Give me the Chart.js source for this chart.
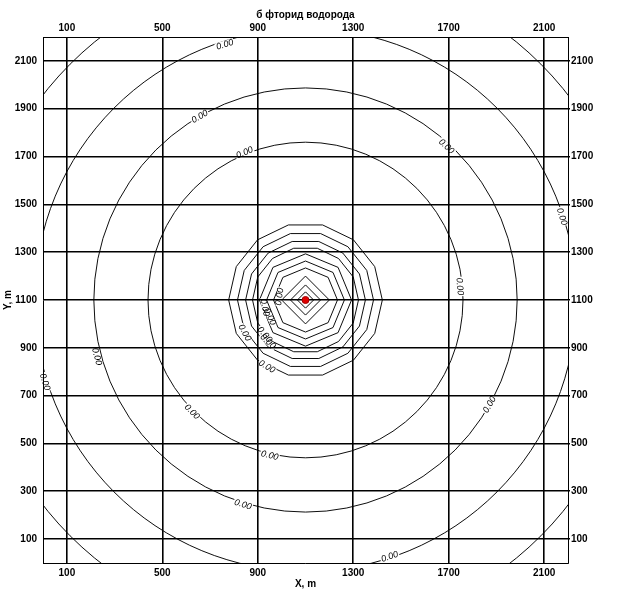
<!DOCTYPE html>
<html>
<head>
<meta charset="utf-8">
<script src="https://cdn.jsdelivr.net/npm/chart.js@4.4.0/dist/chart.umd.min.js"></script>
<style>
html, body { margin: 0; padding: 0; background: #fff; }
</style>
</head>
<body>
<canvas id="contourChart" width="640" height="601"></canvas>
<script>
// Подписи осей (м)
var xTicks = [100, 500, 900, 1300, 1700, 2100];
var yTicks = [100, 300, 500, 700, 900, 1100, 1300, 1500, 1700, 1900, 2100];

// Источник выброса
var sourceX = [1100];
var sourceY = [1100];

// Радиусы изолиний вокруг источника (м)
var outerRadii = [1395, 1135, 887, 660];
var innerRadii = [322, 285, 251, 222, 193, 163, 134, 100, 63, 34];

// Подписи на изолиниях
var labelText = ['0.00', '0.00', '0.00', '0.00', '0.00', '0.00', '0.00', '0.00', '0.00', '0.00',
                 '0.00', '0.00', '0.00', '0.00', '0.00', '0.00', '0.00', '0.00', '0.00', '0.00'];
var labelX = [762, 657, 845, 1690, 2174, 1746, 225, 7, 624, 950, 838, 1872, 1453,
              992, 929, 950, 845, 929, 942, 938];
var labelY = [2168, 1867, 1716, 1742, 1449, 1156, 863, 757, 632, 449, 244, 662, 26,
              1114, 1068, 1030, 963, 955, 926, 821];

var FONT = '"Liberation Sans", Arial, sans-serif';

function labelBox(c, xs, ys, cx, cy, i) {
    var px = xs.getPixelForValue(labelX[i]);
    var py = ys.getPixelForValue(labelY[i]);
    var ang = Math.atan2(py - cy, px - cx) + Math.PI / 2;
    while (ang > Math.PI / 2) ang -= Math.PI;
    while (ang <= -Math.PI / 2) ang += Math.PI;
    var w = c.measureText(labelText[i]).width;
    return {px: px, py: py, ang: ang, hw: w / 2 + 1, hh: i >= 13 ? 3 : 4};
}

// Рисуем изолинии и подписи (через шкалы графика)
var contourPlugin = {
    id: 'contours',
    beforeDatasetsDraw: function (chart) {
        var c = chart.ctx, xs = chart.scales.x, ys = chart.scales.y, area = chart.chartArea;
        var cx = xs.getPixelForValue(sourceX[0]);
        var cy = ys.getPixelForValue(sourceY[0]);
        c.save();
        c.font = 'italic 9px ' + FONT;
        var boxes = [];
        for (var i = 0; i < labelX.length; i++) boxes.push(labelBox(c, xs, ys, cx, cy, i));

        // область отсечения без прямоугольников подписей
        c.beginPath();
        c.rect(area.left, area.top, area.right - area.left, area.bottom - area.top);
        boxes.forEach(function (b) {
            var co = Math.cos(b.ang), si = Math.sin(b.ang);
            var pts = [[-b.hw, -b.hh], [b.hw, -b.hh], [b.hw, b.hh], [-b.hw, b.hh]];
            pts.forEach(function (p, k) {
                var x = b.px + p[0] * co - p[1] * si;
                var y = b.py + p[0] * si + p[1] * co;
                if (k === 0) c.moveTo(x, y); else c.lineTo(x, y);
            });
            c.closePath();
        });
        c.clip('evenodd');

        c.strokeStyle = '#000';
        c.lineWidth = 0.95;
        outerRadii.forEach(function (r) {
            var rx = xs.getPixelForValue(sourceX[0] + r) - cx;
            var ry = cy - ys.getPixelForValue(sourceY[0] + r);
            c.beginPath();
            c.ellipse(cx, cy, rx, ry, 0, 0, 2 * Math.PI);
            c.stroke();
        });
        innerRadii.forEach(function (r) {
            var rx = xs.getPixelForValue(sourceX[0] + r) - cx;
            var ry = cy - ys.getPixelForValue(sourceY[0] + r);
            var n = r < 110 ? 4 : (r < 200 ? 8 : 14);
            c.beginPath();
            for (var k = 0; k < n; k++) {
                var a = 2 * Math.PI * k / n;
                var x = cx + rx * Math.cos(a), y = cy + ry * Math.sin(a);
                if (k === 0) c.moveTo(x, y); else c.lineTo(x, y);
            }
            c.closePath();
            c.stroke();
        });
        c.restore();

        // текст подписей
        c.save();
        c.font = 'italic 9px ' + FONT;
        c.fillStyle = '#000';
        c.textAlign = 'center';
        c.textBaseline = 'middle';
        boxes.forEach(function (b, i) {
            c.save();
            c.translate(b.px, b.py);
            c.rotate(b.ang);
            c.fillText(labelText[i], 0, 0);
            c.restore();
        });
        c.restore();
    }
};

function tickFont() {
    return {family: FONT, size: 10, weight: 'bold'};
}

function setTicks(list) {
    return function (s) {
        s.ticks = list.map(function (v) { return {value: v}; });
    };
}

var ctx = document.getElementById('contourChart').getContext('2d');
var chart = new Chart(ctx, {
    type: 'scatter',
    data: {
        datasets: [{
            label: 'Источник',
            data: [{x: sourceX[0], y: sourceY[0]}],
            pointRadius: 3.5,
            backgroundColor: '#e00000',
            borderColor: '#a00000',
            borderWidth: 1
        }]
    },
    options: {
        responsive: false,
        animation: false,
        layout: {padding: 0},
        plugins: {legend: {display: false}, tooltip: {enabled: false}},
        scales: {
            x: {
                type: 'linear', position: 'bottom', min: 0, max: 2200,
                afterBuildTicks: setTicks(xTicks),
                afterFit: function (s) { s.height = 38; },
                grid: {color: '#000', lineWidth: 1.6, drawTicks: false},
                border: {color: '#000', width: 1},
                ticks: {color: '#000', font: tickFont(), padding: 4, maxRotation: 0, autoSkip: false,
                        callback: function (v) { return String(v); }},
                title: {display: true, text: 'X, m', color: '#000', font: tickFont(), padding: {top: 0, bottom: 11}}
            },
            x2: {
                type: 'linear', axis: 'x', position: 'top', min: 0, max: 2200,
                afterBuildTicks: setTicks(xTicks),
                afterFit: function (s) { s.height = 37; },
                grid: {drawOnChartArea: false, drawTicks: false},
                border: {color: '#000', width: 1},
                ticks: {color: '#000', font: tickFont(), padding: 3, maxRotation: 0, autoSkip: false,
                        callback: function (v) { return String(v); }},
                title: {display: true, text: 'б фторид водорода', color: '#000', font: tickFont(), padding: {top: 9, bottom: 0}}
            },
            y: {
                type: 'linear', position: 'left', min: 0, max: 2200,
                afterBuildTicks: setTicks(yTicks),
                afterFit: function (s) { s.width = 43; },
                grid: {color: '#000', lineWidth: 1.6, drawTicks: false},
                border: {color: '#000', width: 1},
                ticks: {color: '#000', font: tickFont(), padding: 6, autoSkip: false,
                        callback: function (v) { return String(v); }},
                title: {display: true, text: 'Y, m', color: '#000', font: tickFont(), padding: {top: 2, bottom: 0}}
            },
            y2: {
                type: 'linear', axis: 'y', position: 'right', min: 0, max: 2200,
                afterBuildTicks: setTicks(yTicks),
                afterFit: function (s) { s.width = 72; },
                grid: {drawOnChartArea: false, drawTicks: true, tickLength: 2, color: '#000', lineWidth: 1.6},
                border: {color: '#000', width: 1},
                ticks: {color: '#000', font: tickFont(), padding: 1, autoSkip: false,
                        callback: function (v) { return String(v); }}
            }
        }
    },
    plugins: [contourPlugin]
});
</script>
</body>
</html>
